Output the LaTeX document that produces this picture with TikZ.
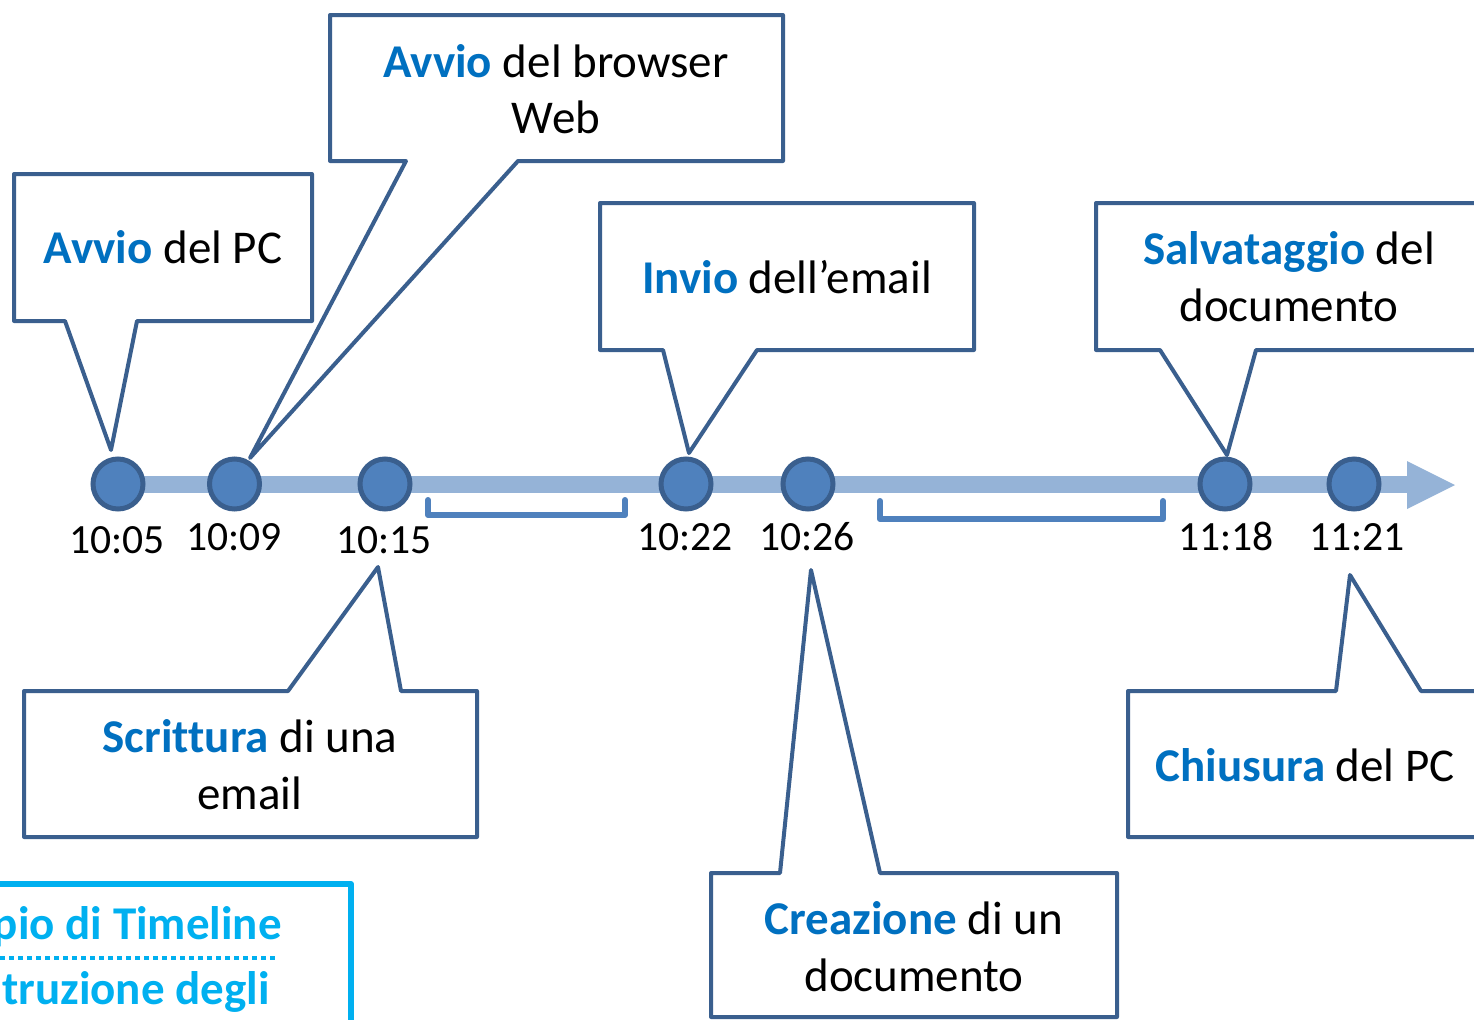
\documentclass[tikz,border=0pt]{standalone}
\usepackage{fontspec}
\setmainfont{Carlito}[Ligatures=NoCommon]
\definecolor{cdark}{HTML}{3A5F8E}
\definecolor{cfill}{HTML}{4F81BD}
\definecolor{cline}{HTML}{95B3D7}
\definecolor{cbold}{HTML}{0070C0}
\definecolor{ccyan}{HTML}{00B0F0}
\tikzset{
  callout/.style={draw=cdark, line width=2pt, fill=white, line join=round},
  dot/.style={circle, draw=cdark, line width=2.5pt, fill=cfill, minimum size=25pt, inner sep=0pt},
  tlabel/.style={anchor=base, inner sep=0pt, font=\fontsize{20.8}{24}\selectfont},
  ctext/.style={anchor=base, inner sep=0pt, font=\fontsize{23.5}{28}\selectfont},
  bracketline/.style={draw=cfill, line width=3pt, line join=round, line cap=round},
}
\newcommand{\hb}[1]{\textcolor{cbold}{\textbf{#1}}}
\begin{document}
\begin{tikzpicture}[x=0.5pt,y=-0.5pt]
\useasboundingbox (0,0) rectangle (1474,1019);
\clip (0,0) rectangle (1474,1019);
% timeline
\fill[cline] (118,476) rectangle (1409,493);
\fill[cline] (1407,461) -- (1455,485) -- (1407,509) -- cycle;
% brackets
\draw[bracketline] (428,500) -- (428,515) -- (625,515) -- (625,500);
\draw[bracketline] (880,501) -- (880,519) -- (1163,519) -- (1163,501);
% callouts
\draw[callout] (14,174) -- (312,174) -- (312,321) -- (137,321) -- (111,450) -- (65,321) -- (14,321) -- cycle;
\draw[callout] (330,15) -- (783,15) -- (783,161) -- (518,161) -- (250,458) -- (406,161) -- (330,161) -- cycle;
\draw[callout] (600,203) -- (974,203) -- (974,350) -- (757,350) -- (689,453) -- (663,350) -- (600,350) -- cycle;
\draw[callout] (1096,203) -- (1490,203) -- (1490,350) -- (1256,350) -- (1227,455) -- (1160,350) -- (1096,350) -- cycle;
\draw[callout] (24,691) -- (288,691) -- (378,567) -- (401,691) -- (477,691) -- (477,837) -- (24,837) -- cycle;
\draw[callout] (711,873) -- (780,873) -- (811,570) -- (880,873) -- (1117,873) -- (1117,1017) -- (711,1017) -- cycle;
\draw[callout] (1128,691) -- (1336,691) -- (1350,575) -- (1421,691) -- (1490,691) -- (1490,837) -- (1128,837) -- cycle;
% dots
\node[dot] (d1) at (118,484) {};
\node[dot] (d2) at (234.5,484) {};
\node[dot] (d3) at (385,484) {};
\node[dot] (d4) at (686,484) {};
\node[dot] (d5) at (808,484) {};
\node[dot] (d6) at (1225,484) {};
\node[dot] (d7) at (1354,484) {};
% time labels
\node[tlabel] (t1) at (117,553) {10:05};
\node[tlabel] (t2) at (234,550) {10:09};
\node[tlabel] (t3) at (384,553) {10:15};
\node[tlabel] (t4) at (685,550) {10:22};
\node[tlabel] (t5) at (807,550) {10:26};
\node[tlabel] (t6) at (1226,550) {11:18};
\node[tlabel] (t7) at (1357,550) {11:21};
% callout texts
\node[ctext] (a1) at (163,263) {\hb{Avvio} del PC};
\node[ctext] (b1) at (556,77) {\hb{Avvio} del browser};
\node[ctext] (b2) at (556,133) {Web};
\node[ctext] (c1) at (787,293) {\hb{Invio} dell’email};
\node[ctext] (s1) at (1289,264) {\hb{Salvataggio} del};
\node[ctext] (s2) at (1289,321) {documento};
\node[ctext] (w1) at (250,752) {\hb{Scrittura} di una};
\node[ctext] (w2) at (250,809) {email};
\node[ctext] (e1) at (914,934) {\hb{Creazione} di un};
\node[ctext] (e2) at (914,991) {documento};
\node[ctext] (h1) at (1305,781) {\hb{Chiusura} del PC};
% bottom-left box
\draw[draw=ccyan, line width=3pt, line join=round] (-10,884) -- (351,884) -- (351,1030);
\node[ctext, anchor=base east, text=ccyan, font=\fontsize{23.5}{28}\selectfont\bfseries] (x1) at (282,939) {pio di Timeline};
\draw[draw=ccyan, line width=1.6pt, dash pattern=on 2.5pt off 2pt] (0,958) -- (275,958);
\node[ctext, anchor=base east, text=ccyan, font=\fontsize{23.5}{28}\selectfont\bfseries] (x2) at (270,1004) {truzione degli};
\end{tikzpicture}
\end{document}
